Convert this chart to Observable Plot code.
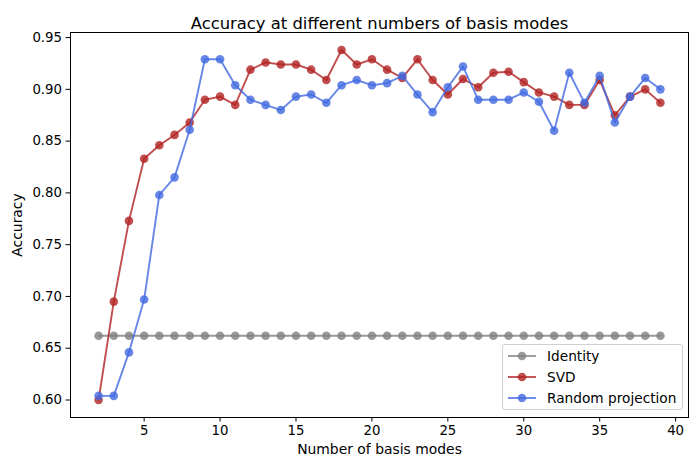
<!DOCTYPE html>
<html>
<head>
<meta charset="utf-8">
<script src="https://cdn.jsdelivr.net/npm/d3@7"></script>
<script src="https://cdn.jsdelivr.net/npm/@observablehq/plot@0.6"></script>
<style>
  html, body { margin: 0; padding: 0; background: white; }
  #wrap { position: relative; width: 700px; height: 470px; font-family: "DejaVu Sans", sans-serif; }
  #legend { position: absolute; left: 502px; top: 344px; width: 181px; height: 66px;
    border: 1px solid #d0d0d0; border-radius: 3px; background: rgba(255,255,255,0.8);
    font-size: 13.7px; color: black; box-sizing: border-box; padding-top: 1px; white-space: nowrap; }
  .row { display: flex; align-items: center; height: 20.7px; }
  .row svg { margin-left: 4px; margin-right: 10px; flex: none; }
</style>
</head>
<body>
<div id="wrap"></div>
<script>
const modes = d3.range(2, 40);
const identity = modes.map(() => 0.662);
const svd = [0.600, 0.695, 0.773, 0.833, 0.846, 0.856, 0.868, 0.890, 0.893, 0.885,
  0.919, 0.926, 0.924, 0.924, 0.919, 0.909, 0.938, 0.924, 0.929, 0.919,
  0.911, 0.929, 0.909, 0.895, 0.910, 0.902, 0.916, 0.917, 0.907, 0.897,
  0.893, 0.885, 0.885, 0.909, 0.875, 0.893, 0.900, 0.887];
const randomProj = [0.604, 0.604, 0.646, 0.697, 0.798, 0.815, 0.861, 0.929, 0.929, 0.904,
  0.890, 0.885, 0.880, 0.893, 0.895, 0.887, 0.904, 0.909, 0.904, 0.906,
  0.913, 0.895, 0.878, 0.902, 0.922, 0.890, 0.890, 0.890, 0.897, 0.888,
  0.860, 0.916, 0.887, 0.913, 0.868, 0.893, 0.911, 0.900];
const seriesNames = ["Identity", "SVD", "Random projection"];
const seriesColors = ["gray", "firebrick", "royalblue"];
const xTicks = [5, 10, 15, 20, 25, 30, 35, 40];
const yTicks = [0.60, 0.65, 0.70, 0.75, 0.80, 0.85, 0.90, 0.95];
const title = "Accuracy at different numbers of basis modes";
const xLabel = "Number of basis modes";
const yLabel = "Accuracy";

const seriesValues = [identity, svd, randomProj];
const series = seriesNames.map((name, i) => modes.map((m, j) => ({mode: m, acc: seriesValues[i][j], name})));

const allY = seriesValues.flat();
const xmin = d3.min(modes), xmax = d3.max(modes);
const ymin = d3.min(allY), ymax = d3.max(allY);
const xm = (xmax - xmin) * 0.05, ym = (ymax - ymin) * 0.05;

const marks = [];
series.forEach((data, i) => {
  marks.push(Plot.line(data, {x: "mode", y: "acc", stroke: seriesColors[i], strokeWidth: 1.9, strokeOpacity: 0.8}));
  marks.push(Plot.dot(data, {x: "mode", y: "acc", r: 4.3, fill: seriesColors[i], fillOpacity: 0.8, stroke: "none"}));
});

const chart = Plot.plot({
  width: 700, height: 470,
  marginLeft: 70, marginRight: 12, marginTop: 32, marginBottom: 53,
  style: {fontFamily: "DejaVu Sans, sans-serif", fontSize: "13.3px", color: "black", background: "white"},
  x: {domain: [xmin - xm, xmax + xm]},
  y: {domain: [ymin - ym, ymax + ym]},
  marks: [
    ...marks,
    Plot.frame({stroke: "black", strokeWidth: 1}),
    Plot.axisX({ticks: xTicks, tickSize: 4.5, tickPadding: 3.5, label: null, tickFormat: d3.format("d"), fontSize: 13.3}),
    Plot.axisY({ticks: yTicks, tickSize: 4.5, tickPadding: 4, label: null, tickFormat: d3.format(".2f"), fontSize: 13.3}),
    Plot.text([title], {frameAnchor: "top", dy: -15, fontSize: 16.4, fill: "black"}),
    Plot.text([xLabel], {frameAnchor: "bottom", dy: 36, fontSize: 13.9, fill: "black"}),
    Plot.text([yLabel], {frameAnchor: "left", dx: -53, rotate: -90, textAnchor: "middle", fontSize: 13.9, fill: "black"})
  ]
});
const wrap = document.getElementById("wrap");
wrap.appendChild(chart);

const legend = document.createElement("div");
legend.id = "legend";
seriesNames.forEach((name, i) => {
  const row = document.createElement("div");
  row.className = "row";
  row.innerHTML = `<svg width="30" height="12"><line x1="1" y1="6" x2="29" y2="6" stroke="${seriesColors[i]}" stroke-opacity="0.8" stroke-width="1.9"/><circle cx="15" cy="6" r="4.3" fill="${seriesColors[i]}" fill-opacity="0.8"/></svg><span>${name}</span>`;
  legend.appendChild(row);
});
wrap.appendChild(legend);
</script>
</body>
</html>
